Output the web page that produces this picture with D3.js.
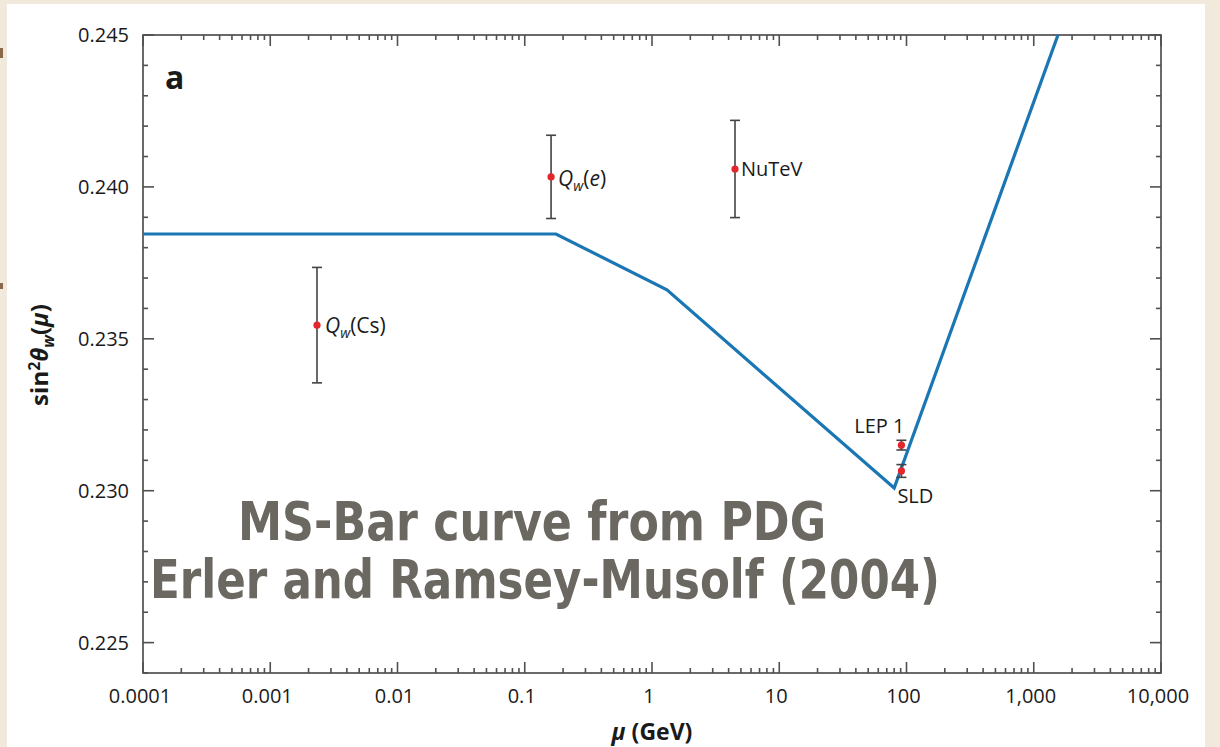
<!DOCTYPE html>
<html>
<head>
<meta charset="utf-8">
<script src="https://cdn.jsdelivr.net/npm/d3@7"></script>
<style>
  html, body { margin: 0; padding: 0; background: #f1e9dc; }
  svg { display: block; }
  text { font-family: "Open Sans", "Noto Sans", sans-serif; fill: #1a1a1a; }
</style>
</head>
<body>
<svg id="chart" width="1220" height="747"></svg>
<script>
// ---- data ----
const curveMu   = [0.0001, 0.176, 1.31, 80, 1550];
const curveSin2 = [0.23845, 0.23845, 0.23661, 0.23009, 0.245];

const pointNames = ["Qw(Cs)", "Qw(e)", "NuTeV", "LEP 1", "SLD"];
const pointMu    = [0.00233, 0.161, 4.49, 91.2, 91.2];
const pointSin2  = [0.23545, 0.24033, 0.24059, 0.23150, 0.23065];
const pointErr   = [0.0019, 0.00137, 0.0016, 0.00016, 0.00021];

const xTickValues = [1e-4, 1e-3, 1e-2, 1e-1, 1, 10, 100, 1000, 10000];
const xTickLabels = ["0.0001", "0.001", "0.01", "0.1", "1", "10", "100", "1,000", "10,000"];
const yTickValues = [0.225, 0.230, 0.235, 0.240, 0.245];
const yTickLabels = ["0.225", "0.230", "0.235", "0.240", "0.245"];
const yMinorValues = d3.range(0.224, 0.2451, 0.001).map(v => +v.toFixed(3));

const overlayLines = ["MS-Bar curve from PDG", "Erler and Ramsey-Musolf (2004)"];

// ---- layout ----
const svg = d3.select("#chart");
const L = 143, R = 1161, T = 35, B = 673;

// background card
svg.append("rect").attr("x", 7).attr("y", 4).attr("width", 1198).attr("height", 743).attr("fill", "#ffffff");
// small smudges at left edge
svg.append("rect").attr("x", 0).attr("y", 48).attr("width", 3).attr("height", 10).attr("fill", "#8a6a4a");
svg.append("rect").attr("x", 0).attr("y", 283).attr("width", 3).attr("height", 6).attr("fill", "#8a6a4a");

const x = d3.scaleLog().domain([1e-4, 1e4]).range([L, R]);
const y = d3.scaleLinear().domain([0.224, 0.245]).range([B, T]);

const minorX = [];
for (let e = -4; e < 4; e++) for (let k = 2; k <= 9; k++) minorX.push(k * Math.pow(10, e));
const yMinor = yMinorValues.filter(v => !yTickValues.some(t => Math.abs(t - v) < 1e-6));

const axisColor = "#505050";
const g = svg.append("g");

// plot frame
g.append("rect").attr("x", L).attr("y", T).attr("width", R - L).attr("height", B - T)
  .attr("fill", "none").attr("stroke", axisColor).attr("stroke-width", 1.7);

function ticks(sel, cls, data, fn) {
  sel.selectAll("line." + cls).data(data).enter().append("line").attr("class", cls)
    .each(function(d) { const c = fn(d); d3.select(this).attr("x1", c[0]).attr("y1", c[1]).attr("x2", c[2]).attr("y2", c[3]); })
    .attr("stroke", axisColor).attr("stroke-width", 1.6);
}
const MJ = 11, MN = 5;
ticks(g, "xb", xTickValues, d => [x(d), B, x(d), B - MJ]);
ticks(g, "xbm", minorX, d => [x(d), B, x(d), B - MN]);
ticks(g, "xt", xTickValues, d => [x(d), T, x(d), T + MJ]);
ticks(g, "xtm", minorX, d => [x(d), T, x(d), T + MN]);
ticks(g, "yl", yTickValues, d => [L, y(d), L + MJ, y(d)]);
ticks(g, "ylm", yMinor, d => [L, y(d), L + MN, y(d)]);
ticks(g, "yr", yTickValues, d => [R, y(d), R - MJ, y(d)]);
ticks(g, "yrm", yMinor, d => [R, y(d), R - MN, y(d)]);

// tick labels
g.selectAll("text.xl").data(xTickValues).enter().append("text").attr("class", "xl")
  .attr("x", d => x(d) - 3).attr("y", 703).attr("text-anchor", "middle")
  .attr("font-size", 20).text((d, i) => xTickLabels[i]);
g.selectAll("text.yl").data(yTickValues).enter().append("text").attr("class", "yl")
  .attr("x", 129).attr("y", d => y(d) + 7).attr("text-anchor", "end")
  .attr("font-size", 20).text((d, i) => yTickLabels[i]);

// axis titles
const xt = svg.append("text").attr("x", (L + R) / 2).attr("y", 740).attr("text-anchor", "middle")
  .attr("font-size", 23).attr("font-weight", "bold");
xt.append("tspan").attr("font-style", "italic").text("μ");
xt.append("tspan").text(" (GeV)");

const yt = svg.append("text").attr("transform", "translate(48,355) rotate(-90)")
  .attr("text-anchor", "middle").attr("font-size", 24).attr("font-weight", "bold");
yt.append("tspan").text("sin");
yt.append("tspan").attr("dy", -8).attr("font-size", 16).text("2");
yt.append("tspan").attr("dy", 8).attr("font-style", "italic").text("θ");
yt.append("tspan").attr("dy", 6).attr("font-size", 16).attr("font-style", "italic").text("w");
yt.append("tspan").attr("dy", -6).text("(");
yt.append("tspan").attr("font-style", "italic").text("μ");
yt.append("tspan").text(")");

// panel label
svg.append("text").attr("x", 165).attr("y", 89).attr("font-size", 32).attr("font-weight", "bold").text("a");

// clip
svg.append("clipPath").attr("id", "clip").append("rect").attr("x", L).attr("y", T).attr("width", R - L).attr("height", B - T);

// curve
const curveData = curveMu.map((m, i) => [m, curveSin2[i]]);
svg.append("path").datum(curveData).attr("clip-path", "url(#clip)")
  .attr("d", d3.line().x(d => x(d[0])).y(d => y(d[1])))
  .attr("fill", "none").attr("stroke", "#1a77b4").attr("stroke-width", 3.2).attr("stroke-linejoin", "miter");

// error bars
const pts = pointNames.map((n, i) => ({ n, m: pointMu[i], v: pointSin2[i], e: pointErr[i] }));
const eb = svg.append("g").attr("stroke", "#444").attr("stroke-width", 1.6);
pts.forEach(p => {
  const cx = x(p.m);
  eb.append("line").attr("x1", cx).attr("x2", cx).attr("y1", y(p.v + p.e)).attr("y2", y(p.v - p.e));
  [p.v + p.e, p.v - p.e].forEach(v => eb.append("line").attr("x1", cx - 5).attr("x2", cx + 5).attr("y1", y(v)).attr("y2", y(v)));
});
svg.selectAll("circle.pt").data(pts).enter().append("circle").attr("class", "pt")
  .attr("cx", d => x(d.m)).attr("cy", d => y(d.v)).attr("r", 3.6).attr("fill", "#e3262b");

// point labels
const lf = 21;
function qLabel(px, py, inner, innerItalic) {
  const t = svg.append("text").attr("x", px).attr("y", py).attr("font-size", lf);
  t.append("tspan").attr("font-style", "italic").text("Q");
  t.append("tspan").attr("font-style", "italic").attr("font-size", 14).attr("dy", 5).text("w");
  t.append("tspan").attr("dy", -5).text("(");
  t.append("tspan").attr("font-style", innerItalic ? "italic" : "normal").text(inner);
  t.append("tspan").text(")");
}
qLabel(x(pointMu[0]) + 8, y(pointSin2[0]) + 8, "Cs", false);
qLabel(x(pointMu[1]) + 7, y(pointSin2[1]) + 9, "e", true);
svg.append("text").attr("x", x(pointMu[2]) + 6).attr("y", y(pointSin2[2]) + 7).attr("font-size", lf - 1).text(pointNames[2]);
svg.append("text").attr("x", x(pointMu[3]) + 3).attr("y", y(pointSin2[3]) - 12).attr("text-anchor", "end").attr("font-size", lf - 1).text(pointNames[3]);
svg.append("text").attr("x", x(pointMu[4]) - 4).attr("y", y(pointSin2[4]) + 32).attr("font-size", lf - 1).text(pointNames[4]);

// overlay annotation
const ovFont = "'Liberation Sans Narrow', 'DejaVu Sans Condensed', sans-serif";
const ov = svg.append("g").attr("font-weight", "bold");
ov.append("text").attr("x", 532).attr("y", 540).attr("text-anchor", "middle")
  .attr("font-size", 54).attr("textLength", 588).attr("lengthAdjust", "spacingAndGlyphs")
  .style("font-family", ovFont).style("fill", "#6b6761").text(overlayLines[0]);
ov.append("text").attr("x", 545).attr("y", 598).attr("text-anchor", "middle")
  .attr("font-size", 54).attr("textLength", 790).attr("lengthAdjust", "spacingAndGlyphs")
  .style("font-family", ovFont).style("fill", "#6b6761").text(overlayLines[1]);
</script>
</body>
</html>
